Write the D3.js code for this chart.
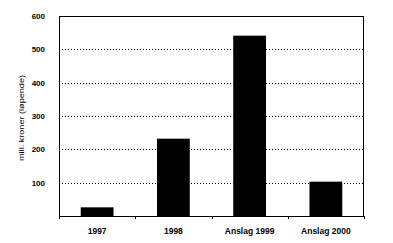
<!DOCTYPE html>
<html>
<head>
<meta charset="utf-8">
<script src="https://cdn.jsdelivr.net/npm/d3@7"></script>
<style>
	body { margin: 0; background: #fff; }
	svg text { font-family: "Liberation Sans", Arial, sans-serif; font-weight: bold; fill: #000; }
</style>
</head>
<body>
<svg id="chart" width="393" height="243"></svg>
<script>
var categories = ['1997', '1998', 'Anslag 1999', 'Anslag 2000'];
var values = [26, 232, 541, 103];
var yTicks = [100, 200, 300, 400, 500, 600];
var yLabel = 'mill. kroner (løpende)';

(function() {
	'use strict';

	var chart = d3.select('#chart'),
		margin = { top: 16, right: 29, bottom: 27, left: 59 },
		width = 393 - margin.left - margin.right,
		height = 243 - margin.top - margin.bottom;

	var xScale = d3.scaleBand()
		.domain(categories)
		.range([0, width])
		.paddingInner(0.57)
		.paddingOuter(0.285);

	var yScale = d3.scaleLinear()
		.domain([0, 600])
		.range([height, 0]);

	var g = chart.append('g')
		.attr('transform', 'translate(' + margin.left + ',' + margin.top + ')');

	// dotted grid
	g.selectAll('.grid')
		.data(yTicks.filter(function(d) { return d < 600; }))
		.enter()
		.append('line')
		.attr('x1', 0)
		.attr('x2', width)
		.attr('y1', function(d) { return Math.round(yScale(d)) + 0.5; })
		.attr('y2', function(d) { return Math.round(yScale(d)) + 0.5; })
		.attr('stroke', '#000')
		.attr('stroke-width', 1)
		.attr('stroke-dasharray', '1,2');

	// bars
	g.selectAll('.bar')
		.data(values)
		.enter()
		.append('rect')
		.attr('x', function(d, i) { return xScale(categories[i]); })
		.attr('y', function(d) { return yScale(d); })
		.attr('width', xScale.bandwidth())
		.attr('height', function(d) { return height - yScale(d); })
		.attr('fill', '#000');

	// frame
	g.append('rect')
		.attr('x', 0.5)
		.attr('y', 0.5)
		.attr('width', width - 1)
		.attr('height', height)
		.attr('fill', 'none')
		.attr('stroke', '#000')
		.attr('stroke-width', 1);

	// y axis
	var yAxis = d3.axisLeft(yScale)
		.tickValues(yTicks)
		.tickSize(0)
		.tickPadding(14);
	var ya = g.append('g').call(yAxis);
	ya.select('.domain').remove();
	ya.selectAll('text').style('font-size', '8px');

	// x axis with ticks at band boundaries
	var xa = g.append('g')
		.attr('transform', 'translate(0,' + height + ')')
		.call(d3.axisBottom(xScale).tickSize(0).tickPadding(12));
	xa.select('.domain').attr('stroke-width', 1.2);
	xa.selectAll('text').style('font-size', '8.5px');

	g.append('g')
		.attr('transform', 'translate(0,' + height + ')')
		.selectAll('line')
		.data(d3.range(categories.length + 1))
		.enter()
		.append('line')
		.attr('x1', function(i) { return Math.round(i * width / categories.length) + 0.5; })
		.attr('x2', function(i) { return Math.round(i * width / categories.length) + 0.5; })
		.attr('y1', 0)
		.attr('y2', 3)
		.attr('stroke', '#000');

	// y label
	chart.append('text')
		.attr('transform', 'translate(24,' + (margin.top + height / 2 + 2) + ') rotate(-90)')
		.attr('text-anchor', 'middle')
		.attr('textLength', 86)
		.attr('lengthAdjust', 'spacingAndGlyphs')
		.style('font-size', '7.5px')
		.style('font-weight', 'normal')
		.text(yLabel);
})();
</script>
</body>
</html>
